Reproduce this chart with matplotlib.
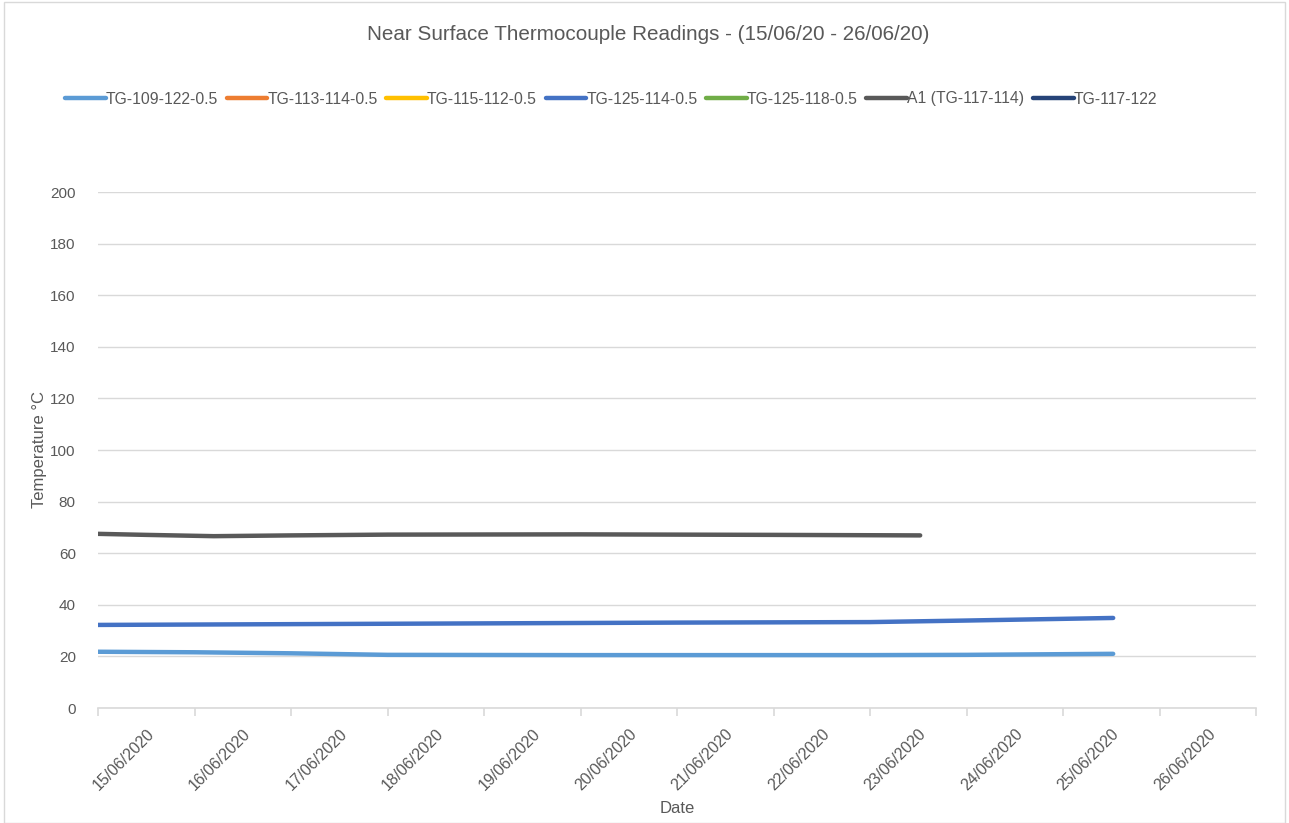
import matplotlib
matplotlib.use("Agg")
import matplotlib.pyplot as plt
from matplotlib.patches import Rectangle

# Data (x = days since 15/06/2020 00:00)
tick_labels = ["15/06/2020", "16/06/2020", "17/06/2020", "18/06/2020", "19/06/2020", "20/06/2020",
               "21/06/2020", "22/06/2020", "23/06/2020", "24/06/2020", "25/06/2020", "26/06/2020"]

x_tg109 = [0, 1, 2, 3, 5, 8, 9, 10.52]
y_tg109 = [21.8, 21.6, 21.2, 20.6, 20.5, 20.5, 20.6, 21.0]

x_tg125_114 = [0, 2, 4, 6, 8, 9, 10.52]
y_tg125_114 = [32.2, 32.5, 32.8, 33.1, 33.3, 33.9, 34.9]

x_a1 = [0, 0.5, 1.2, 2, 3, 5, 7, 8.52]
y_a1 = [67.5, 67.1, 66.6, 66.9, 67.2, 67.3, 67.1, 66.9]

series_names = ["TG-109-122-0.5", "TG-113-114-0.5", "TG-115-112-0.5", "TG-125-114-0.5",
                "TG-125-118-0.5", "A1 (TG-117-114)", "TG-117-122"]
series_x = [x_tg109, [], [], x_tg125_114, [], x_a1, []]
series_y = [y_tg109, [], [], y_tg125_114, [], y_a1, []]
colors = ["#5B9BD5", "#ED7D31", "#FFC000", "#4472C4", "#70AD47", "#595959", "#264478"]

plt.rcParams['font.family'] = ['Liberation Sans', 'DejaVu Sans']
fig = plt.figure(figsize=(12.89, 8.23), dpi=100)
ax = fig.add_axes([98/1289, 1 - 708/823, (1256-98)/1289, (708-192)/823])

handles = []
for xs, ys, c, n in zip(series_x, series_y, colors, series_names):
    h, = ax.plot(xs, ys, color=c, lw=3.2, solid_capstyle='round', label=n)
    handles.append(h)

ax.set_xlim(0, 12)
ax.set_ylim(0, 200)
ax.set_yticks(range(0, 201, 20))
ax.yaxis.grid(True, color="#D9D9D9", lw=1)
ax.set_axisbelow(True)
for s in ["top", "right", "left"]:
    ax.spines[s].set_visible(False)
ax.spines["bottom"].set_color("#D9D9D9")
ax.spines["bottom"].set_linewidth(1.2)

ax.set_xticks(range(0, 13))
ax.set_xticklabels([])
ax.tick_params(axis='x', which='major', length=6, color="#D9D9D9", width=1.2)
ax.set_xticks([i + 0.5 for i in range(12)], minor=True)
ax.set_xticklabels(tick_labels, minor=True, rotation=45, ha='right', va='top',
                   rotation_mode='anchor', fontsize=11.5, color="#595959")
ax.tick_params(axis='x', which='minor', length=0, pad=13)
ax.tick_params(axis='y', length=0, labelsize=11, labelcolor="#595959", pad=16)

ax.set_xlabel("Date", fontsize=12, color="#595959", labelpad=6)
ax.set_ylabel("Temperature °C", fontsize=12, color="#595959", labelpad=2)

fig.text(648/1289, 1 - 35/823, "Near Surface Thermocouple Readings - (15/06/20 - 26/06/20)",
         ha='center', va='center', fontsize=14.9, color="#595959")

fig.legend(handles=handles, labels=series_names, loc='center', bbox_to_anchor=(611/1289, 1 - 99/823),
           ncol=7, frameon=False, fontsize=11.3, handlelength=2.6, handletextpad=0.0,
           columnspacing=0.55, labelcolor="#595959")

fig.patches.append(Rectangle((4/1289, 0), 1 - 8/1289, 1 - 2/823, transform=fig.transFigure,
                             fill=False, edgecolor="#D9D9D9", lw=1))

fig.savefig("out.png", dpi=100)
